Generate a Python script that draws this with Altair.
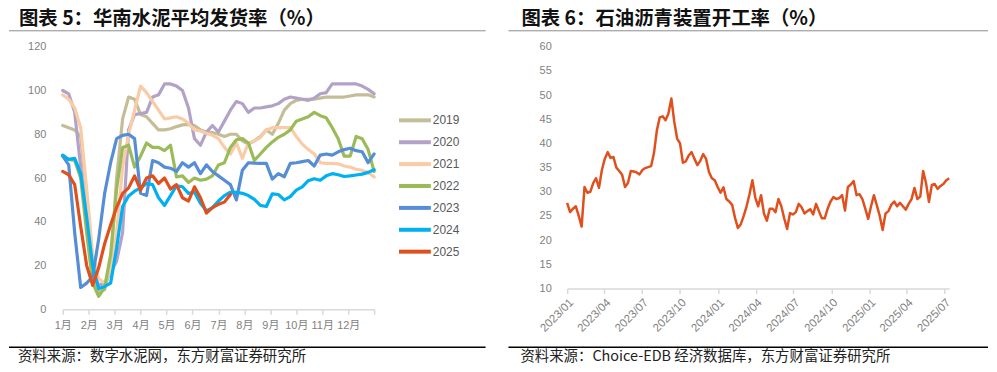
import json
import altair as alt
import pandas as pd

FONT = "Liberation Sans, Noto Sans CJK SC"
CJK = "Noto Sans CJK SC"

# ---------------- left panel data (weekly, 53 weeks per year) ----------------
years = ["2019", "2020", "2021", "2022", "2023", "2024", "2025"]
colors = ["#C4BD97", "#B3A2C7", "#F9CBA6", "#9BBB59", "#558ED5", "#00B0F0", "#E0501E"]
month_labels = ["1月", "2月", "3月", "4月", "5月", "6月", "7月", "8月", "9月", "10月", "11月", "12月", ""]

s2019 = [84, 83, 82, 79, 52, 15, 8, 9, 20, 60, 87, 97, 96, 89, 88, 85, 82, 82, 82.5, 83.5,
         84.3, 84.5, 84, 82, 81, 80.8, 80, 79, 80, 80, 77, 75.5, 77, 79, 82, 80, 85, 91, 94, 95.5,
         96, 96, 96, 96.5, 97, 97, 97, 97, 97.5, 98, 98, 98, 97]
s2020 = [100, 98.5, 90, 65, 40, 18, 11, 12, 17, 22, 35, 82, 89, 89.5, 90, 97, 98, 103, 103, 102,
         100, 92, 78, 75, 81, 84, 81, 86, 91, 95, 94, 90, 92, 92, 92.5, 93, 94, 96, 97, 96.5,
         96, 95.5, 96.5, 98.5, 99, 103, 103, 103, 103, 103, 102, 100.5, 98.5]
s2021 = [98, 96, 92, 83, 55, 25, 14, 12, 18, 35, 65, 80, 91, 102, 99, 95, 91, 87, 87.5, 88,
         87, 85, 82, 81.5, 80.5, 79.5, 78, 74, 71, 76, 69, 76, 77, 78.5, 82, 83, 83, 83, 83, 79,
         75.5, 73, 71, 67, 66.7, 66.7, 66.5, 65.5, 65, 64, 63.5, 62.5, 60.5]
s2022 = [70, 68.5, 68, 60, 35, 12, 6, 10, 25, 55, 74, 75, 65, 70, 76, 74, 74, 72.5, 75, 60.5,
         61, 58, 60, 59, 59.5, 61, 66, 67, 74, 77.5, 78, 76, 68, 71, 74, 76.5, 78.6, 80, 82, 86,
         87, 88, 90, 88.5, 87.5, 83, 78, 70, 70, 79, 78, 73, 63]
s2023 = [70, 66, 35, 10, 12, 15, 32, 53, 67, 78, 79.5, 80, 78, 53, 52, 68, 67, 65, 64.5, 63,
         67, 65, 67, 62, 66, 63, 61, 59, 57, 50, 63.6, 67, 66.8, 66.7, 66.7, 59.5, 62, 60.6, 66.7, 67,
         67.5, 68, 65.5, 70.5, 71, 70.5, 72, 73, 73.6, 72.5, 72, 67, 71]
s2024 = [70.5, 68.5, 69, 62, 42, 20, 9.5, 10.5, 12, 28, 47, 51.8, 54, 55.5, 57.5, 57, 51, 47.5, 52, 56.5,
         56, 53, 53.5, 48.5, 45, 46.5, 49.5, 52, 53.5, 53.5, 53, 52, 50.3, 47.5, 47, 52.8, 52.5, 50, 51.5, 54.5,
         56, 58.8, 59.7, 59, 61, 62, 61.5, 60.7, 61, 61.4, 61.8, 62.6, 63.8]
s2025 = [63, 61.5, 57, 38, 20, 11, 19, 30, 38.6, 46.5, 53, 55.5, 61, 54.5, 60, 61, 57.5, 60, 55, 57,
         51, 49.5, 56, 51, 44, 46.5, 48, 49, 52.5]
series = [s2019, s2020, s2021, s2022, s2023, s2024, s2025]

rows = []
for yr, vals in zip(years, series):
    for w, v in enumerate(vals):
        rows.append({"year": yr, "m": w * 12 / 52, "v": v})
df1 = pd.DataFrame(rows)

# ---------------- right panel data (weekly from 2023-01-01) ----------------
asphalt = [27.7, 25.8, 26.5, 27, 25, 22.8, 31, 29.8, 30, 31.8,
           32.8, 30.8, 34.5, 36.8, 38.2, 37, 37.2, 35, 34.3, 33.5,
           31, 31.8, 34.3, 34.2, 34, 33.6, 34.5, 34.9, 35.1, 35.3,
           38, 42.7, 45.4, 45.6, 44.8, 46.2, 49.3, 44.5, 41, 40,
           36, 36.3, 37.5, 38.2, 36.8, 35.5, 36.4, 37.8, 36.8, 34.1,
           32.8, 32.4, 31, 29.8, 30.9, 28.5, 28, 27.3, 24.6, 22.5,
           23.3, 25, 27, 29.5, 32.4, 28.8, 27, 29.3, 25.5, 24,
           26.5, 26.5, 25.8, 28.5, 27, 24.5, 22.3, 25.6, 25.3, 25.8,
           27.5, 26.8, 25.5, 26, 26.4, 25.3, 27.5, 26, 24.5, 24.5,
           26.5, 28, 28.9, 28.5, 28.7, 29.3, 26.1, 31, 31.5, 32.2,
           29.3, 29.5, 28.5, 26.5, 24.4, 27, 29.3, 27.2, 25, 22.1,
           25.5, 26, 27.3, 28, 27, 27.7, 27, 26.3, 27.5, 28.5,
           30.8, 28.5, 29, 34.3, 31.8, 27.9, 31.4, 31.6, 30.6, 31.2,
           31.6, 32.4, 32.8]
dates = pd.date_range("2023-01-01", periods=len(asphalt), freq="7D")
df2 = pd.DataFrame({"date": dates.strftime("%Y-%m-%dT00:00:00"), "v": asphalt})
quarter_ticks = ["2023-01", "2023-04", "2023-07", "2023-10", "2024-01", "2024-04",
                 "2024-07", "2024-10", "2025-01", "2025-04", "2025-07"]
x_end = dates[-1]


def dt(s, d=1):
    y, m = s.split("-")[:2]
    return alt.DateTime(year=int(y), month=int(m), date=d)


title_left = "图表 5：华南水泥平均发货率（%）"
title_right = "图表 6：石油沥青装置开工率（%）"
src_left = "资料来源：数字水泥网，东方财富证券研究所"
src_right = "资料来源：Choice-EDB 经济数据库，东方财富证券研究所"

AXC = "#7F7F7F"
GRID = "#D9D9D9"


def decorations(title, src, x_title, x_src, x0, x1):
    one = pd.DataFrame({"t": [title], "s": [src]})
    base = alt.Chart(one)
    anchor = base.mark_rect(color="white").encode(
        x=alt.value(x0), x2=alt.value(x0 + 1), y=alt.value(-38), y2=alt.value(-37))
    ttl = base.mark_text(align="left", baseline="middle", fontSize=19.5, fontWeight="bold",
                         font=CJK, color="#111111").encode(
        x=alt.value(x_title), y=alt.value(-28), text="t:N")
    ul = base.mark_rule(color="#8C8C8C", strokeWidth=1).encode(
        x=alt.value(x0), x2=alt.value(x1), y=alt.value(-16))
    fl = base.mark_rule(color="#000000", strokeWidth=1.5).encode(
        x=alt.value(x0), x2=alt.value(x1), y=alt.value(302))
    ft = base.mark_text(align="left", baseline="middle", fontSize=14.5,
                        font=CJK, color="#222222").encode(
        x=alt.value(x_src), y=alt.value(312), text="s:N")
    return [anchor, ttl, ul, fl, ft]


lines1 = alt.Chart(df1).mark_line(strokeWidth=3.2, strokeJoin="round", strokeCap="round").encode(
    x=alt.X("m:Q", scale=alt.Scale(domain=[0, 12], nice=False, zero=False),
            axis=alt.Axis(values=list(range(13)),
                          labelExpr=json.dumps(month_labels, ensure_ascii=False) + "[datum.value]",
                          title=None, grid=False, domainColor=GRID, domainWidth=1.5,
                          tickColor=GRID, tickSize=5, tickWidth=1.5, labelColor=AXC,
                          labelFontSize=11, labelFont=FONT, labelPadding=5,
                          labelFlush=False, labelOverlap=False)),
    y=alt.Y("v:Q", scale=alt.Scale(domain=[0, 120], nice=False),
            axis=alt.Axis(values=list(range(0, 121, 20)), title=None, grid=False, domain=False,
                          ticks=False, labelPadding=17, labelColor=AXC, labelFontSize=11,
                          labelFont=FONT)),
    color=alt.Color("year:N", scale=alt.Scale(domain=years, range=colors),
                    legend=alt.Legend(title=None, orient="none", legendX=348, legendY=68,
                                      symbolType="M-4,0H4", symbolSize=64, symbolStrokeWidth=4,
                                      labelFontSize=12, labelColor="#595959", labelFont=FONT,
                                      labelOffset=12, rowPadding=6, padding=0)),
)

left = alt.layer(lines1, *decorations(title_left, src_left, -44, -45, -54, 425)).properties(
    width=313, height=264)

line2 = alt.Chart(df2).mark_line(strokeWidth=2.5, color="#E0501E", strokeJoin="round").encode(
    x=alt.X("date:T", scale=alt.Scale(domain=[dt("2023-01"), alt.DateTime(year=x_end.year, month=x_end.month, date=x_end.day)]),
            axis=alt.Axis(values=[dt(q) for q in quarter_ticks], format="%Y/%m", labelAngle=-45,
                          title=None, grid=False, domainColor=GRID, domainWidth=1.5,
                          tickColor=GRID, tickSize=5, tickWidth=1.5, labelColor=AXC,
                          labelFontSize=11.5, labelFont=FONT, labelPadding=3,
                          labelFlush=False, labelOverlap=False)),
    y=alt.Y("v:Q", scale=alt.Scale(domain=[10, 60], nice=False, zero=False),
            axis=alt.Axis(values=list(range(10, 61, 5)), title=None, grid=False, domain=False,
                          ticks=False, labelPadding=16, labelColor=AXC, labelFontSize=11,
                          labelFont=FONT)),
)

right = alt.layer(line2, *decorations(title_right, src_right, -46, -47, -59, 423)).properties(
    width=384, height=243)

chart = (
    alt.hconcat(left, right, spacing=194, bounds="flush")
    .resolve_scale(color="independent")
    .resolve_legend(color="independent")
    .properties(padding=0, background="white")
    .configure_view(stroke=None)
)

chart.save("out.html", embed_options={"renderer": "svg", "actions": False})
